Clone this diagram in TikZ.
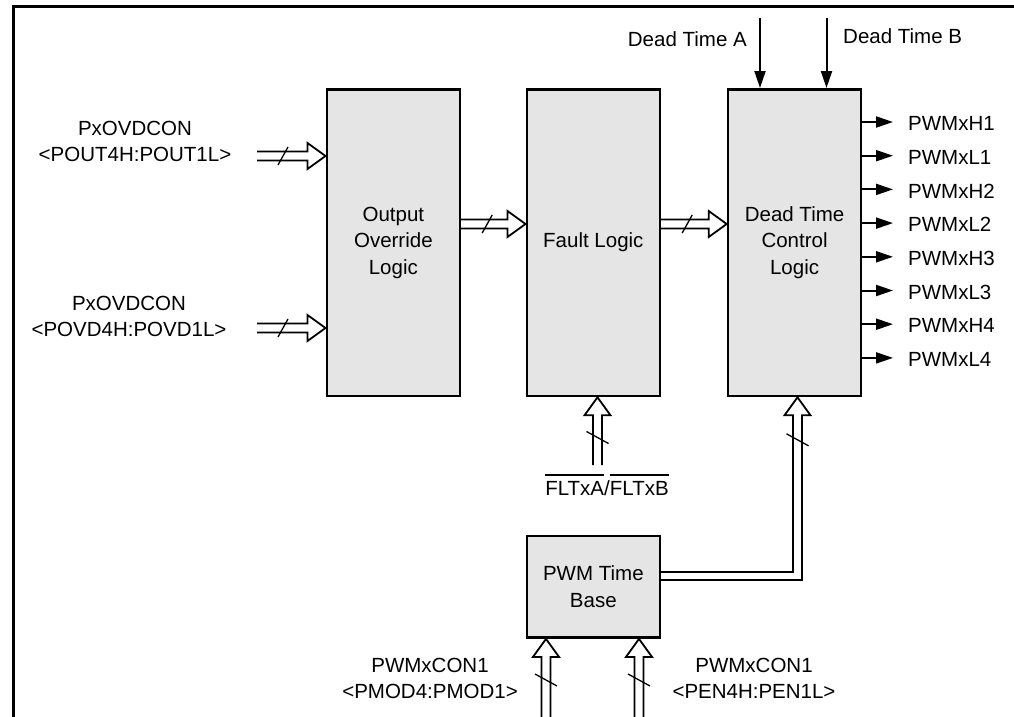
\documentclass[tikz,border=0pt]{standalone}
\usepackage{fontspec}
\setmainfont{Liberation Sans}
\usetikzlibrary{arrows.meta,calc}
\newcommand{\hbus}[2]{%
  \draw[bus] ($(#1)+(0,-4.5)$) -- ($(#2)+(-18,-4.5)$) -- ($(#2)+(-18,-13)$) -- (#2) -- ($(#2)+(-18,13)$) -- ($(#2)+(-18,4.5)$) -- ($(#1)+(0,4.5)$);}
\newcommand{\vbus}[2]{%
  \draw[bus] ($(#1)+(-4.5,0)$) -- ($(#2)+(-4.5,18)$) -- ($(#2)+(-13,18)$) -- (#2) -- ($(#2)+(13,18)$) -- ($(#2)+(4.5,18)$) -- ($(#1)+(4.5,0)$);}
\newcommand{\ovl}[1]{\leavevmode\vbox{\hrule height 2pt\kern 4.5pt\hbox{#1}}}
\begin{document}
\begin{tikzpicture}[x=1pt,y=-1pt,
  blk/.style={draw,line width=2.7pt,fill=black!10,minimum width=133pt,anchor=north west,
    font=\fontsize{20.5}{26.5}\selectfont,align=center,inner sep=0pt},
  lbl/.style={font=\fontsize{20.5}{26}\selectfont,inner sep=0pt,align=center},
  bus/.style={line width=1.8pt,fill=white,line join=miter},
  sig/.style={line width=2pt,-{Triangle[length=17pt,width=11pt]}},
  slash/.style={line width=1.3pt},
  frame/.style={line width=3pt}
]
\useasboundingbox (0,0) rectangle (1014,717);
% frame
\coordinate (fr1) at (13,717);
\coordinate (fr2) at (13,6.5);
\coordinate (fr3) at (1014,6.5);
\draw[frame] (fr1) -- (fr2) -- (fr3);

% blocks
\node[blk,minimum height=306.6pt] (ool) at (325.5,88) {Output\\Override\\Logic};
\node[blk,minimum height=306.6pt] (flt) at (525.5,88) {Fault Logic};
\node[blk,minimum height=306.6pt] (dtc) at (726.7,88) {Dead Time\\Control\\Logic};
\node[blk,minimum height=101.5pt] (tb) at (525.5,534.7) {PWM Time\\Base};

% left inputs
\node[lbl] (l1) at (135,141) {PxOVDCON\\\textless POUT4H:POUT1L\textgreater};
\node[lbl] (l2) at (129,316) {PxOVDCON\\\textless POVD4H:POVD1L\textgreater};
\coordinate (i1s) at (257,156);
\coordinate (i1e) at (ool.west |- i1s);
\hbus{i1s}{i1e}
\draw[slash] ($(i1s)+(21,9)$) -- ++(10,-18);
\coordinate (i2s) at (257,328);
\coordinate (i2e) at (ool.west |- i2s);
\hbus{i2s}{i2e}
\draw[slash] ($(i2s)+(21,9)$) -- ++(10,-18);

% OOL -> Fault
\coordinate (a1s) at (ool.east |- 0,224);
\coordinate (a1e) at (flt.west |- a1s);
\hbus{a1s}{a1e}
\draw[slash] ($(a1s)+(21,9)$) -- ++(10,-18);
% Fault -> DTC
\coordinate (a2s) at (flt.east |- 0,224);
\coordinate (a2e) at (dtc.west |- a2s);
\hbus{a2s}{a2e}
\draw[slash] ($(a2s)+(21,9)$) -- ++(10,-18);

% FLT input
\coordinate (f1s) at (597.5,465);
\coordinate (f1e) at (f1s |- flt.south);
\vbus{f1s}{f1e}
\draw[slash] ($(f1s)+(-11,-33.5)$) -- ++(22,12);
\node[lbl,anchor=base] (fl) at (607,495) {\ovl{FLTxA}/\ovl{FLTxB}};

% Time base -> DTC
\coordinate (cor) at (797.5,576);
\coordinate (tbo) at (tb.east |- cor);
\coordinate (dti) at (cor |- dtc.south);
\draw[bus] ($(tbo)+(0,-4)$) -- ($(cor)+(-4.5,-4)$) -- ($(dti)+(-4.5,18)$) -- ($(dti)+(-13,18)$) -- (dti) -- ($(dti)+(13,18)$) -- ($(dti)+(4.5,18)$) -- ($(cor)+(4.5,4)$) -- ($(tbo)+(0,4)$);
\draw[slash] ($(dti)+(-11,36.5)$) -- ++(22,12);

% bottom inputs
\coordinate (b1s) at (546,717);
\coordinate (b1e) at (b1s |- tb.south);
\vbus{b1s}{b1e}
\draw[slash] ($(b1s)+(-11,-43)$) -- ++(22,12);
\coordinate (b2s) at (639,717);
\coordinate (b2e) at (b2s |- tb.south);
\vbus{b2s}{b2e}
\draw[slash] ($(b2s)+(-11,-43)$) -- ++(22,12);
\node[lbl] (bl1) at (430,678.5) {PWMxCON1\\\textless PMOD4:PMOD1\textgreater};
\node[lbl] (bl2) at (754,678.5) {PWMxCON1\\\textless PEN4H:PEN1L\textgreater};

% dead time inputs
\coordinate (dta) at (760,18);
\draw[sig] (dta) -- (dta |- dtc.north);
\coordinate (dtb) at (826.5,18);
\draw[sig] (dtb) -- (dtb |- dtc.north);
\node[lbl,anchor=east] (dtal) at (747,39) {Dead Time A};
\node[lbl,anchor=west] (dtbl) at (843,36) {Dead Time B};

% outputs
\foreach \t [count=\i from 0] in {PWMxH1,PWMxL1,PWMxH2,PWMxL2,PWMxH3,PWMxL3,PWMxH4,PWMxL4} {
  \coordinate (o\i) at (893,{122+33.7*\i});
  \draw[sig] (dtc.east |- o\i) -- (o\i);
  \node[lbl,anchor=west] (ol\i) at ($(o\i)+(15,1.5)$) {\t};
}
\end{tikzpicture}
\end{document}
